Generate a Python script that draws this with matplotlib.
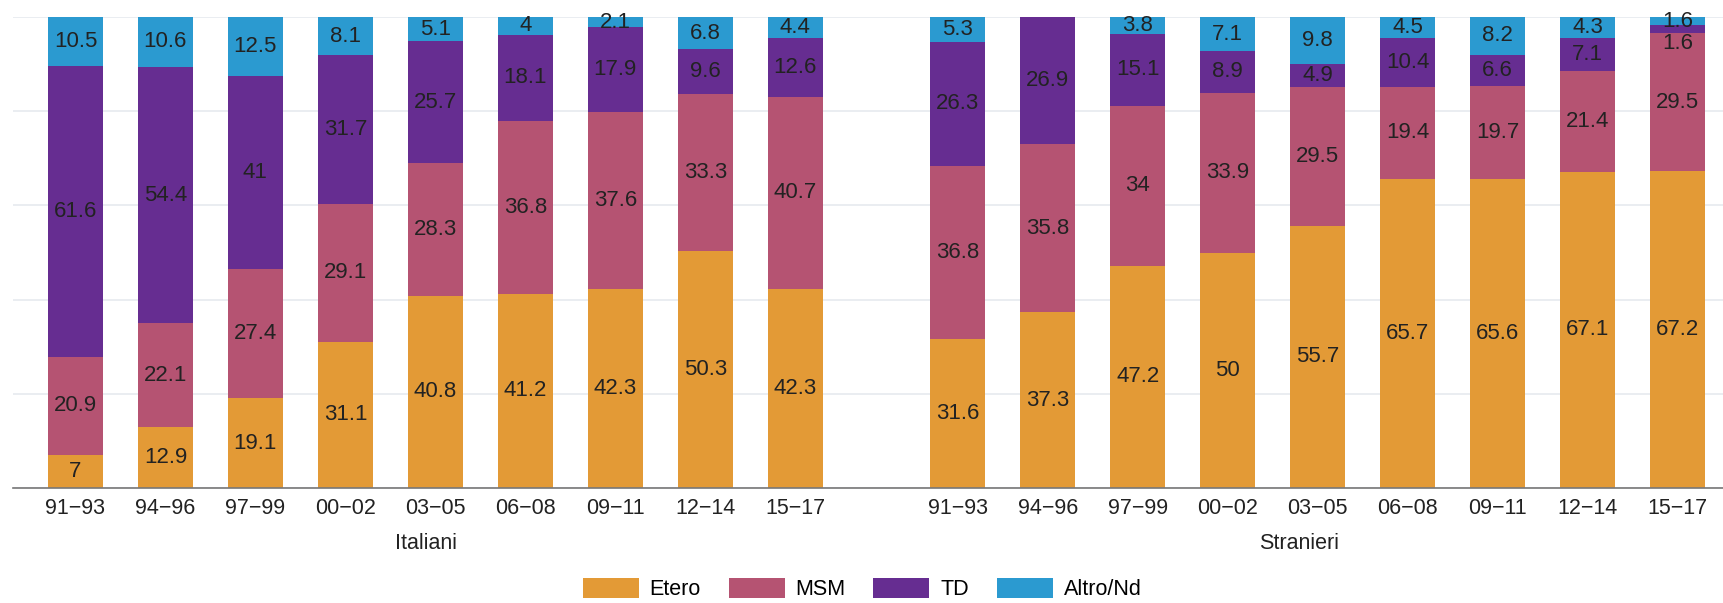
import matplotlib
matplotlib.use("Agg")
import matplotlib.pyplot as plt
import numpy as np

plt.rcParams['font.family'] = ['Liberation Sans', 'DejaVu Sans']

periods = ["91\u221293", "94\u221296", "97\u221299", "00\u221202", "03\u221205",
           "06\u221208", "09\u221211", "12\u221214", "15\u221217"]
groups = ["Italiani", "Stranieri"]
categories = ["Etero", "MSM", "TD", "Altro/Nd"]
colors = ["#E39A36", "#B55372", "#662D91", "#2B9AD0"]

# Italiani
ita_etero = [7, 12.9, 19.1, 31.1, 40.8, 41.2, 42.3, 50.3, 42.3]
ita_msm = [20.9, 22.1, 27.4, 29.1, 28.3, 36.8, 37.6, 33.3, 40.7]
ita_td = [61.6, 54.4, 41, 31.7, 25.7, 18.1, 17.9, 9.6, 12.6]
ita_altro = [10.5, 10.6, 12.5, 8.1, 5.1, 4, 2.1, 6.8, 4.4]

# Stranieri
str_etero = [31.6, 37.3, 47.2, 50, 55.7, 65.7, 65.6, 67.1, 67.2]
str_msm = [36.8, 35.8, 34, 33.9, 29.5, 19.4, 19.7, 21.4, 29.5]
str_td = [26.3, 26.9, 15.1, 8.9, 4.9, 10.4, 6.6, 7.1, 1.6]
str_altro = [5.3, 0, 3.8, 7.1, 9.8, 4.5, 8.2, 4.3, 1.6]

group_gap = 9.806
bar_w = 0.61
min_sep = 4.8

fig = plt.figure(figsize=(17.24, 6.03), dpi=100)
ax = fig.add_axes([13 / 1724, 1 - 488 / 603, 1 - 13 / 1724, (488 - 17) / 603])

series = [
    [ita_etero, ita_msm, ita_td, ita_altro],
    [str_etero, str_msm, str_td, str_altro],
]

for g, data in enumerate(series):
    x = np.arange(len(periods)) + g * group_gap
    bottom = np.zeros(len(periods))
    centers = []
    for k, vals in enumerate(data):
        vals = np.array(vals, dtype=float)
        ax.bar(x, vals, bar_w, bottom=bottom, color=colors[k],
               label=categories[k] if g == 0 else None, zorder=2)
        centers.append((bottom + vals / 2, vals))
        bottom = bottom + vals
    # labels, top-down, pushed apart if too close
    for i in range(len(periods)):
        last_y = None
        for k in range(len(categories) - 1, -1, -1):
            cy, vals = centers[k]
            if vals[i] <= 0:
                continue
            y = cy[i]
            if last_y is not None and last_y - y < min_sep:
                y = last_y - min_sep
            last_y = y
            ax.text(x[i], y, f"{vals[i]:g}", ha="center", va="center",
                    fontsize=16, color="#222222", zorder=3)

xt = list(np.arange(len(periods))) + list(np.arange(len(periods)) + group_gap)
ax.set_xticks(xt)
ax.set_xticklabels(periods * 2)
ax.tick_params(axis="x", length=0, labelsize=15.5, pad=7, colors="#222222")
ax.set_yticks([0, 20, 40, 60, 80, 100])
ax.set_yticklabels([])
ax.tick_params(axis="y", length=0)
ax.grid(axis="y", color="#E6EAEF", linewidth=1.2, zorder=0)
ax.set_ylim(0, 100)
ax.set_xlim(-0.694, 18.32)
for s in ["top", "left", "right"]:
    ax.spines[s].set_visible(False)
ax.spines["bottom"].set_color("#777777")
ax.spines["bottom"].set_linewidth(1.2)
ax.spines["bottom"].set_zorder(4)

ax.text(3.9, -11.8, groups[0], ha="center", va="center", fontsize=15.5,
        color="#222222")
ax.text(13.6, -11.8, groups[1], ha="center", va="center", fontsize=15.5,
        color="#222222")

fig.legend(loc="center", bbox_to_anchor=(0.5, 1 - 589 / 603), ncol=4,
           frameon=False, fontsize=15.5, handlelength=2.6, handleheight=1.1,
           columnspacing=1.3, handletextpad=0.5, borderpad=0)

fig.savefig("out.png", dpi=100)
